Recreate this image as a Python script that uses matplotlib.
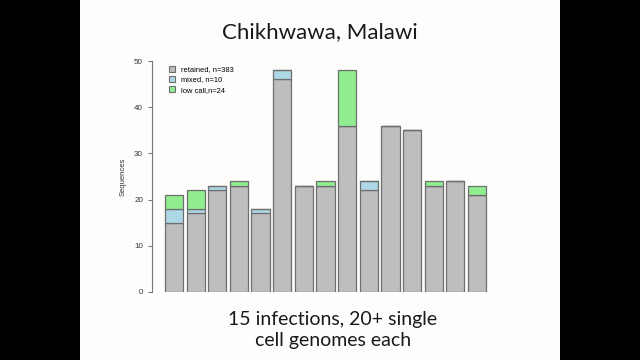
import matplotlib
matplotlib.use('Agg')
import numpy as np
import matplotlib.pyplot as plt
from matplotlib.patches import Rectangle, Patch

# sequences per infection (15 infections)
retained = [15, 17, 22, 23, 17, 46, 23, 23, 36, 22, 36, 35, 23, 24, 21]
mixed    = [3, 1, 1, 0, 1, 2, 0, 0, 0, 2, 0, 0, 0, 0, 0]
low_call = [3, 4, 0, 1, 0, 0, 0, 1, 12, 0, 0, 0, 1, 0, 2]
legend_labels = ['retained, n=383', 'mixed, n=10', 'low call,n=24']
yticks = [0, 10, 20, 30, 40, 50]

title = 'Chikhwawa, Malawi'
caption = '15 infections, 20+ single\ncell genomes each'

fig = plt.figure(figsize=(6.4, 3.6), dpi=100, facecolor='black')
# slide area (4:3 inside 16:9 frame)
fig.patches.append(Rectangle((80 / 640, 0), 480 / 640, 1, transform=fig.transFigure,
                             facecolor='#fdfdfb', edgecolor='none', zorder=-10))

ax = fig.add_axes([152 / 640, (360 - 292) / 360, 347 / 640, 231 / 360])
ax.set_facecolor('none')

x = np.arange(len(retained))
r = np.array(retained)
m = np.array(mixed)
l = np.array(low_call)
w = 1 / 1.2
ec = '#6e6e6e'
ax.bar(x, r, width=w, color='#bebebe', edgecolor=ec, linewidth=0.9)
ax.bar(x, m, width=w, bottom=r, color='#add8e6', edgecolor=ec, linewidth=0.9)
ax.bar(x, l, width=w, bottom=r + m, color='#90ee90', edgecolor=ec, linewidth=0.9)

ax.set_xlim(-1.01, 15.01)
ax.set_ylim(0, 50)
for s in ['top', 'right', 'bottom']:
    ax.spines[s].set_visible(False)
ax.spines['left'].set_color('#777777')
ax.spines['left'].set_linewidth(0.8)
ax.spines['left'].set_bounds(0, 50)
ax.set_xticks([])
ax.set_yticks(yticks)
ax.tick_params(axis='y', length=3, width=0.8, color='#777777', labelsize=5.8,
               labelcolor='#333333', pad=3.5)
for t in ax.get_yticklabels():
    t.set_fontfamily('Liberation Sans')
ax.set_ylabel('Sequences', fontsize=5.5, color='#333333', family='Liberation Sans', labelpad=5)

handles = [Patch(facecolor=c, edgecolor=ec, linewidth=0.8)
           for c in ['#bebebe', '#add8e6', '#90ee90']]
ax.legend(handles, legend_labels, loc='upper left', bbox_to_anchor=(0.035, 1.0),
          frameon=False, handlelength=0.9, handleheight=0.9,
          handletextpad=0.7, labelspacing=0.35, borderaxespad=0.2,
          prop={'family': 'Liberation Sans', 'size': 5.4})

fig.text(320 / 640, 1 - 32 / 360, title, ha='center', va='center',
         fontsize=16, family='Lato', color='#1a1a1a')
fig.text(333 / 640, 1 - 330 / 360, caption, ha='center', va='center',
         fontsize=14, family='Lato', color='#1a1a1a', linespacing=1.3)

fig.savefig('out.png', dpi=100, facecolor=fig.get_facecolor())
